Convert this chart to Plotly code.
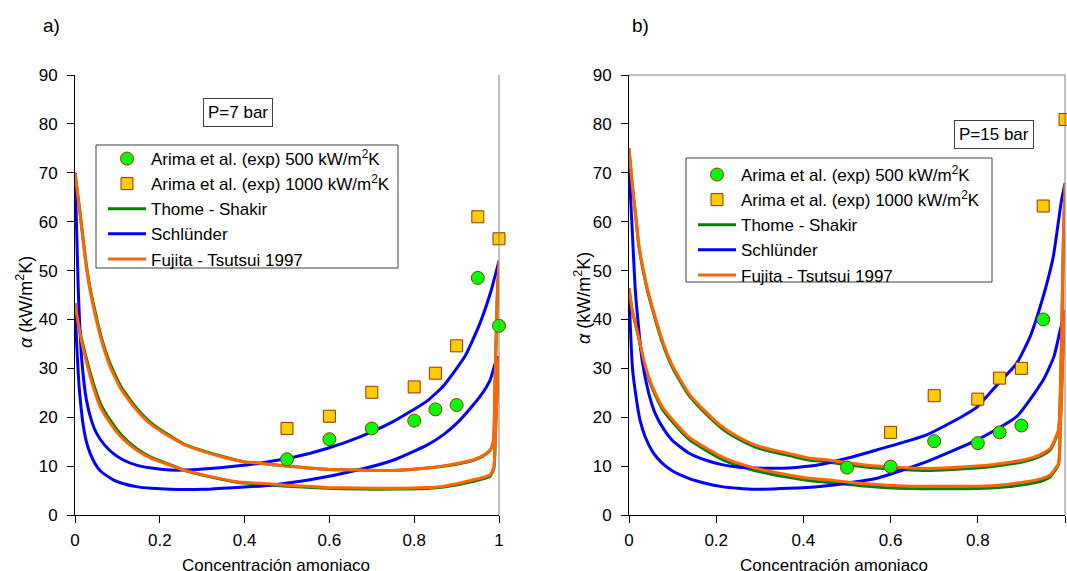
import plotly.graph_objects as go

# ---------------- data: panel a) P = 7 bar ----------------
a_exp_x = [0.5, 0.6, 0.7, 0.8, 0.85, 0.9, 0.95, 1.0]
a_exp500 = [11.4, 15.5, 17.7, 19.3, 21.6, 22.5, 48.5, 38.7]
a_exp1000 = [17.7, 20.2, 25.1, 26.2, 29.0, 34.6, 61.0, 56.5]

a_fuj1000_x = [0, 0.012, 0.024, 0.035, 0.047, 0.06, 0.083, 0.11, 0.145, 0.18, 0.224, 0.26, 0.303, 0.35, 0.397,
               0.436, 0.5, 0.55, 0.6, 0.672, 0.75, 0.83, 0.88, 0.94, 0.965, 0.979, 0.987, 0.99, 0.993, 0.996, 1.0]
a_fuj1000 = [70, 61.5, 52.5, 46.2, 41.2, 36.5, 30.3, 25.5, 21.5, 18.5, 16, 14.3, 13, 11.8, 10.9,
             10.6, 10.0, 9.6, 9.3, 9.2, 9.1, 9.6, 10.2, 11.3, 12.3, 13.3, 15.3, 25, 35, 45, 52]
a_tho1000 = [70, 61.8, 52.9, 46.7, 41.8, 37.0, 30.9, 26.0, 21.9, 18.8, 16.2, 14.4, 13.1, 11.9, 10.9,
             10.6, 10.0, 9.6, 9.3, 9.2, 9.1, 9.6, 10.1, 11.2, 12.2, 13.2, 15.2, 25, 35, 45, 52]

a_fuj500_x = [0, 0.01, 0.02, 0.043, 0.06, 0.083, 0.11, 0.145, 0.18, 0.224, 0.26, 0.303, 0.381, 0.436, 0.5,
              0.594, 0.672, 0.75, 0.83, 0.87, 0.94, 0.979, 0.988, 0.991, 0.994, 0.997, 1.0]
a_fuj500 = [43.3, 38, 33.8, 26.2, 22, 18.8, 15.8, 13.3, 11.6, 10.2, 9.1, 8.2, 6.8, 6.5, 6.1,
            5.65, 5.5, 5.45, 5.6, 5.9, 7.2, 8.2, 9.9, 15, 22, 28, 32.4]
a_tho500 = [43.3, 38.3, 34.4, 27.0, 22.8, 19.4, 16.3, 13.6, 11.8, 10.3, 9.1, 8.1, 6.7, 6.3, 5.9,
            5.45, 5.3, 5.3, 5.4, 5.7, 6.9, 7.9, 9.6, 15, 22, 28, 32.4]

a_sch1000_x = [0, 0.004, 0.008, 0.016, 0.027, 0.04, 0.051, 0.07, 0.09, 0.115, 0.145, 0.18, 0.224, 0.26, 0.303,
               0.381, 0.436, 0.515, 0.594, 0.672, 0.75, 0.83, 0.87, 0.92, 0.955, 0.98, 1.0]
a_sch1000 = [70, 58, 45.3, 31.7, 23.5, 19, 16.7, 14.3, 12.6, 11.2, 10.2, 9.6, 9.2, 9.2, 9.4,
             10, 10.6, 11.8, 13.6, 16, 19.1, 23.3, 26.5, 32.5, 39.2, 45.5, 52]

a_sch500_x = [0, 0.004, 0.01, 0.02, 0.03, 0.043, 0.06, 0.09, 0.115, 0.145, 0.18, 0.224, 0.303, 0.381, 0.436,
              0.46, 0.554, 0.672, 0.75, 0.83, 0.87, 0.908, 0.955, 0.979, 0.993, 1.0]
a_sch500 = [43, 35, 26, 18, 14, 11.2, 9.0, 7.2, 6.4, 5.8, 5.45, 5.25, 5.25, 5.65, 5.9,
            6.1, 7.2, 9.3, 11.2, 14.3, 16.5, 19.4, 24.2, 27.6, 31.5, 32.4]

# ---------------- data: panel b) P = 15 bar ----------------
b_exp500_x = [0.5, 0.6, 0.7, 0.8, 0.85, 0.9, 0.95]
b_exp500 = [9.7, 9.9, 15.1, 14.7, 16.9, 18.3, 40.0]
b_exp1000_x = [0.6, 0.7, 0.8, 0.85, 0.9, 0.95, 1.0]
b_exp1000 = [16.9, 24.4, 23.7, 28.0, 30.0, 63.2, 80.9]

b_fuj1000_x = [0, 0.007, 0.015, 0.022, 0.033, 0.045, 0.06, 0.076, 0.1, 0.137, 0.175, 0.213, 0.25, 0.29, 0.33,
               0.366, 0.415, 0.443, 0.5, 0.568, 0.683, 0.797, 0.85, 0.904, 0.94, 0.966, 0.985, 0.99, 0.993,
               0.996, 1.0]
b_fuj1000 = [75, 68, 61.5, 55.6, 50, 45.3, 40.5, 35.8, 30.5, 24.9, 21.2, 18.1, 16, 14.3, 13.3,
             12.6, 11.6, 11.4, 10.7, 10, 9.5, 10, 10.5, 11.25, 12.2, 13.6, 17.4, 27.6, 40, 55, 67.8]
b_tho1000 = [75, 68, 61.5, 55.4, 49.7, 44.9, 40.1, 35.4, 30.1, 24.5, 20.8, 17.7, 15.6, 13.9, 12.9,
             12.2, 11.2, 11.0, 10.3, 9.6, 9.1, 9.6, 10.1, 10.9, 11.9, 13.3, 17.2, 27.6, 40, 55, 67.8]

b_fuj500_x = [0, 0.007, 0.015, 0.022, 0.033, 0.045, 0.06, 0.076, 0.1, 0.137, 0.175, 0.213, 0.25, 0.29, 0.33,
              0.366, 0.415, 0.443, 0.53, 0.644, 0.797, 0.86, 0.912, 0.945, 0.966, 0.985, 0.989, 0.993, 0.996, 1.0]
b_fuj500 = [46.4, 42, 39, 36.5, 32, 28.3, 25, 22.2, 19.5, 16, 13.8, 11.9, 10.6, 9.55, 8.8,
            8.2, 7.5, 7.3, 6.5, 5.9, 5.9, 6.2, 6.8, 7.4, 8.2, 10.6, 17.4, 27, 36, 41.9]
b_tho500 = [46.4, 42, 39, 36.3, 31.7, 27.9, 24.6, 21.7, 19.0, 15.5, 13.3, 11.4, 10.1, 9.05, 8.3,
            7.7, 7.0, 6.8, 6.0, 5.4, 5.4, 5.7, 6.3, 6.9, 7.8, 10.3, 17.2, 27, 36, 41.9]

b_sch1000_x = [0, 0.003, 0.007, 0.015, 0.03, 0.045, 0.06, 0.08, 0.099, 0.135, 0.175, 0.213, 0.252, 0.29, 0.328,
               0.366, 0.404, 0.443, 0.5, 0.568, 0.683, 0.767, 0.797, 0.843, 0.889, 0.92, 0.95, 0.973, 0.992, 1.0]
b_sch1000 = [73, 66, 59, 45.3, 31.7, 25, 20.8, 17.5, 15.3, 12.8, 11.25, 10.3, 9.75, 9.6, 9.55,
             9.6, 9.9, 10.4, 11.6, 13.3, 16.4, 20.3, 22, 26.5, 31, 36.5, 44.7, 52.8, 64.4, 67.8]

b_sch500_x = [0, 0.003, 0.008, 0.015, 0.025, 0.037, 0.055, 0.076, 0.1, 0.137, 0.175, 0.213, 0.25, 0.29, 0.366,
              0.443, 0.5, 0.568, 0.683, 0.797, 0.889, 0.95, 0.975, 0.989, 1.0]
b_sch500 = [46, 38.5, 30, 24.9, 19.5, 16, 12.8, 10.6, 9, 7.5, 6.5, 5.8, 5.45, 5.25, 5.45,
            5.9, 6.5, 7.5, 10.9, 15.3, 20.1, 27.6, 32.5, 37.8, 41.5]

x_ticks = [0, 0.2, 0.4, 0.6, 0.8, 1]
x_ticktext = ["0", "0.2", "0.4", "0.6", "0.8", "1"]
y_ticks = [0, 10, 20, 30, 40, 50, 60, 70, 80, 90]

names = ["Arima et al. (exp) 500 kW/m<sup>2</sup>K", "Arima et al. (exp) 1000 kW/m<sup>2</sup>K",
         "Thome - Shakir", "Schlünder", "Fujita - Tsutsui 1997"]

# ---------------- styling ----------------
FONT = "Liberation Sans, Arial, sans-serif"
GREEN = "#008000"
BLUE = "#0000FF"
ORANGE = "#FF6600"
LW = 3
W, H = 1067, 571


def px_x(p):
    return p / W


def px_y(p):
    return 1 - p / H


fig = go.Figure()


def join(x1, y1, x2, y2):
    return list(x1) + [None] + list(x2), list(y1) + [None] + list(y2)


def add_panel(xa, ya, leg, tho, sch, fuj, exp500, exp1000):
    for (xs, ys), col, nm, rank in [(tho, GREEN, names[2], 3), (sch, BLUE, names[3], 4), (fuj, ORANGE, names[4], 5)]:
        fig.add_trace(go.Scatter(x=xs, y=ys, mode="lines", name=nm,
                                 line=dict(color=col, width=LW, shape="spline", smoothing=0.5),
                                 xaxis=xa, yaxis=ya, legend=leg, legendrank=rank, legendgroup=leg + nm,
                                 connectgaps=False))
    fig.add_trace(go.Scatter(x=exp500[0], y=exp500[1], mode="markers", name=names[0],
                             marker=dict(symbol="circle", size=13, color="#00FF00",
                                         line=dict(color="#993300", width=1)),
                             xaxis=xa, yaxis=ya, legend=leg, legendrank=1, legendgroup=leg + "e500",
                             cliponaxis=False))
    fig.add_trace(go.Scatter(x=exp1000[0], y=exp1000[1], mode="markers", name=names[1],
                             marker=dict(symbol="square", size=12, color="#FFCC00",
                                         line=dict(color="#993300", width=1)),
                             xaxis=xa, yaxis=ya, legend=leg, legendrank=2, legendgroup=leg + "e1000",
                             cliponaxis=False))


add_panel("x", "y", "legend",
          join(a_fuj500_x, a_tho500, a_fuj1000_x, a_tho1000),
          join(a_sch500_x, a_sch500, a_sch1000_x, a_sch1000),
          join(a_fuj500_x, a_fuj500, a_fuj1000_x, a_fuj1000),
          (a_exp_x, a_exp500), (a_exp_x, a_exp1000))
add_panel("x2", "y2", "legend2",
          join(b_fuj500_x, b_tho500, b_fuj1000_x, b_tho1000),
          join(b_sch500_x, b_sch500, b_sch1000_x, b_sch1000),
          join(b_fuj500_x, b_fuj500, b_fuj1000_x, b_fuj1000),
          (b_exp500_x, b_exp500), (b_exp1000_x, b_exp1000))

axis_common = dict(showgrid=False, zeroline=False, showline=True, linecolor="#000000", linewidth=1,
                   ticks="outside", ticklen=7, tickcolor="#000000", tickwidth=1,
                   tickfont=dict(family=FONT, size=17, color="#000000"), automargin=False)

ydom = [px_y(515), px_y(75)]
leg_common = dict(xanchor="left", yanchor="top", bgcolor="rgba(0,0,0,0)", borderwidth=0,
                  font=dict(family=FONT, size=17), traceorder="grouped", tracegroupgap=0,
                  itemwidth=38, itemclick=False)
fig.update_layout(
    width=W, height=H, margin=dict(l=0, r=0, t=0, b=0), autosize=False,
    paper_bgcolor="white", plot_bgcolor="white",
    font=dict(family=FONT, size=17, color="#000000"),
    xaxis=dict(domain=[px_x(75), px_x(499)], range=[0, 1], tickvals=x_ticks, ticktext=x_ticktext,
               anchor="y", ticklabelstandoff=3, **axis_common),
    yaxis=dict(domain=ydom, range=[0, 90], tickvals=y_ticks, anchor="x", ticklabelstandoff=6, **axis_common),
    xaxis2=dict(domain=[px_x(629), px_x(1065)], range=[0, 1], tickvals=x_ticks, ticktext=x_ticktext,
                anchor="y2", ticklabelstandoff=3, **axis_common),
    yaxis2=dict(domain=ydom, range=[0, 90], tickvals=y_ticks, anchor="x2", ticklabelstandoff=6, **axis_common),
    legend=dict(x=px_x(103), y=px_y(141), **leg_common),
    legend2=dict(x=px_x(693), y=px_y(157), **leg_common),
    showlegend=True,
)

shapes = [
    # legend boxes
    dict(type="rect", xref="paper", yref="paper", x0=px_x(96), x1=px_x(398), y0=px_y(268), y1=px_y(145),
         line=dict(color="#404040", width=1), fillcolor="white", layer="below"),
    dict(type="rect", xref="paper", yref="paper", x0=px_x(686), x1=px_x(992), y0=px_y(282), y1=px_y(158),
         line=dict(color="#404040", width=1), fillcolor="white", layer="below"),
    # plot-area borders (gray)
    dict(type="line", xref="x domain", yref="y domain", x0=1, x1=1, y0=0, y1=1,
         line=dict(color="#808080", width=1)),
    dict(type="line", xref="x2 domain", yref="y2 domain", x0=1, x1=1, y0=0, y1=1,
         line=dict(color="#808080", width=1)),
    dict(type="line", xref="x2 domain", yref="y2 domain", x0=0, x1=1, y0=1, y1=1,
         line=dict(color="#808080", width=1)),
]
fig.update_layout(shapes=shapes)

ann = [
    dict(text="a)", x=px_x(51), y=px_y(25), showarrow=False, font=dict(size=19)),
    dict(text="b)", x=px_x(641), y=px_y(25), showarrow=False, font=dict(size=19)),
    dict(text="P=7 bar", x=px_x(238), y=px_y(113), showarrow=False, font=dict(size=17),
         bordercolor="#404040", borderwidth=1, borderpad=4, bgcolor="white"),
    dict(text="P=15 bar", x=px_x(994), y=px_y(134), showarrow=False, font=dict(size=17),
         bordercolor="#404040", borderwidth=1, borderpad=4, bgcolor="white"),
    dict(text="<i>α</i> (kW/m<sup>2</sup>K)", x=px_x(24), y=px_y(302), textangle=-90, showarrow=False,
         font=dict(size=18)),
    dict(text="<i>α</i> (kW/m<sup>2</sup>K)", x=px_x(582), y=px_y(298), textangle=-90, showarrow=False,
         font=dict(size=18)),
    dict(text="Concentración amoniaco", x=px_x(276), y=px_y(565), showarrow=False, font=dict(size=17)),
    dict(text="Concentración amoniaco", x=px_x(834), y=px_y(565), showarrow=False, font=dict(size=17)),
]
for a in ann:
    a.update(xref="paper", yref="paper", xanchor="center", yanchor="middle")
fig.update_layout(annotations=ann)

fig.write_html("out.html")
